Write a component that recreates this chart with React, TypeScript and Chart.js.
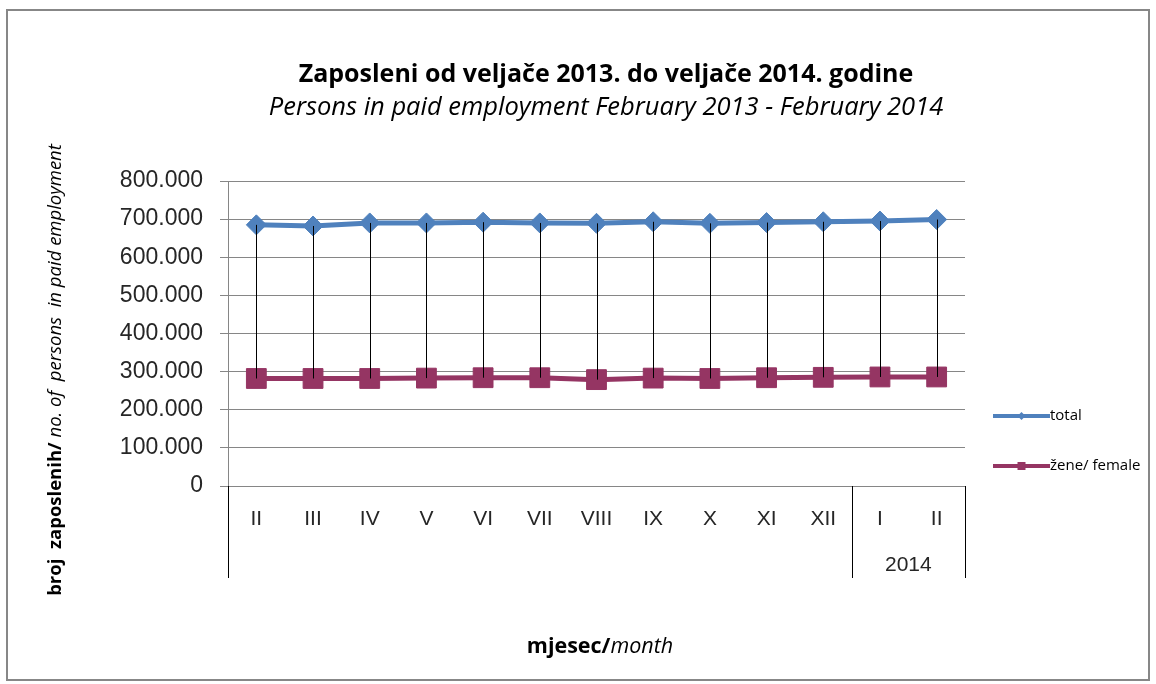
import { useEffect, useRef } from 'react';
import { Chart, registerables } from 'chart.js';

Chart.register(...registerables);

// ---- data ----
const months = ['II', 'III', 'IV', 'V', 'VI', 'VII', 'VIII', 'IX', 'X', 'XI', 'XII', 'I', 'II'];
const totalValues = [685000, 682000, 690000, 690000, 692000, 690000, 689000, 693000, 689000, 691000, 693000, 695000, 699000];
const femaleValues = [282000, 282000, 282000, 283000, 284000, 284000, 279000, 283000, 282000, 284000, 285000, 286000, 286000];
const seriesNames = ['total', 'žene/ female'];
const yearGroups = [
  { label: '', from: 0, to: 10 },
  { label: '2014', from: 11, to: 12 },
];
const yMin = 0;
const yMax = 800000;
const yStep = 100000;

const titleMain = 'Zaposleni od veljače 2013. do veljače 2014. godine';
const titleSub = 'Persons in paid employment February 2013 - February 2014';
const yTitleBold = 'broj  zaposlenih/';
const yTitleItalic = ' no. of  persons  in paid employment';
const xTitleBold = 'mjesec/';
const xTitleItalic = 'month';

const BLUE = '#4F81BD';
const PURPLE = '#953563';
const GRID = '#868686';
const TEXT = '#262626';
const FONT = '"Open Sans", Lato, sans-serif';

function fmt(v: number): string {
  return String(Math.round(v)).replace(/\B(?=(\d{3})+(?!\d))/g, '.');
}

const decor = {
  id: 'decor',
  afterDatasetsDraw(chart: any) {
    const ctx = chart.ctx;
    const m0 = chart.getDatasetMeta(0);
    const m1 = chart.getDatasetMeta(1);
    ctx.save();
    ctx.strokeStyle = '#000';
    ctx.lineWidth = 1;
    m0.data.forEach((p: any, i: number) => {
      const q = m1.data[i];
      const x = Math.round(p.x) + 0.5;
      ctx.beginPath();
      ctx.moveTo(x, p.y);
      ctx.lineTo(x, q.y);
      ctx.stroke();
    });
    ctx.restore();
  },
  afterDraw(chart: any) {
    const ctx = chart.ctx;
    const area = chart.chartArea;
    const xs = chart.scales.x;
    ctx.save();

    // titles
    ctx.fillStyle = '#000';
    ctx.textAlign = 'center';
    ctx.textBaseline = 'alphabetic';
    ctx.font = `bold 25px ${FONT}`;
    ctx.fillText(titleMain, 598, 71);
    ctx.font = `italic 25.5px ${FONT}`;
    ctx.fillText(titleSub, 598, 104);

    const drawMixed = (bold: string, ital: string, size: number, cx: number, cy: number, rot: number) => {
      ctx.save();
      ctx.translate(cx, cy);
      ctx.rotate(rot);
      ctx.textAlign = 'left';
      ctx.font = `bold ${size}px ${FONT}`;
      const wb = ctx.measureText(bold).width;
      ctx.font = `italic ${size}px ${FONT}`;
      const wi = ctx.measureText(ital).width;
      const start = -(wb + wi) / 2;
      ctx.font = `bold ${size}px ${FONT}`;
      ctx.fillText(bold, start, 0);
      ctx.font = `italic ${size}px ${FONT}`;
      ctx.fillText(ital, start + wb, 0);
      ctx.restore();
    };
    drawMixed(xTitleBold, xTitleItalic, 21.5, 592, 642, 0);
    drawMixed(yTitleBold, yTitleItalic, 18.5, 53, 359, -Math.PI / 2);

    // category groups (dividers + labels)
    const bottomY = area.bottom + 92;
    const boundary = (i: number) => {
      if (i <= 0) return xs.left;
      if (i >= months.length) return xs.right;
      return (xs.getPixelForTick(i - 1) + xs.getPixelForTick(i)) / 2;
    };
    ctx.strokeStyle = '#000';
    ctx.lineWidth = 1;
    ctx.textAlign = 'center';
    ctx.textBaseline = 'middle';
    ctx.fillStyle = TEXT;
    ctx.font = '21px "Liberation Sans", Arial, sans-serif';
    const edges = new Set<number>();
    yearGroups.forEach((g) => {
      edges.add(g.from);
      edges.add(g.to + 1);
      if (g.label) {
        const cx = (xs.getPixelForTick(g.from) + xs.getPixelForTick(g.to)) / 2;
        ctx.fillText(g.label, cx, area.bottom + 79);
      }
    });
    edges.forEach((i) => {
      const x = Math.round(boundary(i)) + 0.5;
      ctx.beginPath();
      ctx.moveTo(x, area.bottom);
      ctx.lineTo(x, bottomY);
      ctx.stroke();
    });

    // legend
    const legendX0 = 985;
    const legendX1 = 1042;
    const legendYs = [405, 455];
    const colors = [BLUE, PURPLE];
    ctx.font = `15px "Open Sans", sans-serif`;
    ctx.textAlign = 'left';
    ctx.textBaseline = 'middle';
    legendYs.forEach((ly, k) => {
      ctx.strokeStyle = colors[k];
      ctx.lineWidth = 4;
      ctx.beginPath();
      ctx.moveTo(legendX0, ly);
      ctx.lineTo(legendX1, ly);
      ctx.stroke();
      ctx.fillStyle = colors[k];
      const mx = (legendX0 + legendX1) / 2;
      ctx.beginPath();
      if (k === 0) {
        ctx.moveTo(mx, ly - 4);
        ctx.lineTo(mx + 4, ly);
        ctx.lineTo(mx, ly + 4);
        ctx.lineTo(mx - 4, ly);
        ctx.closePath();
      } else {
        ctx.rect(mx - 4, ly - 4, 8, 8);
      }
      ctx.fill();
      ctx.fillStyle = '#000';
      ctx.fillText(seriesNames[k], legendX1, ly);
    });

    ctx.restore();
  },
};

export default function App() {
  const ref = useRef<HTMLCanvasElement | null>(null);
  useEffect(() => {
    if (!ref.current) return;
    const chart = new Chart(ref.current, {
      type: 'line',
      data: {
        labels: months,
        datasets: [
          {
            label: seriesNames[0],
            data: totalValues,
            borderColor: BLUE,
            backgroundColor: BLUE,
            borderWidth: 5,
            pointStyle: 'rectRot',
            pointRadius: 10,
            pointBorderWidth: 1,
            pointBackgroundColor: BLUE,
            pointBorderColor: BLUE,
            tension: 0,
          },
          {
            label: seriesNames[1],
            data: femaleValues,
            borderColor: PURPLE,
            backgroundColor: PURPLE,
            borderWidth: 5,
            pointStyle: 'rect',
            pointRadius: 14,
            pointBorderWidth: 1,
            pointBackgroundColor: PURPLE,
            pointBorderColor: PURPLE,
            tension: 0,
          },
        ],
      },
      options: {
        responsive: false,
        animation: false,
        events: [],
        layout: { padding: { top: 170, right: 183, left: 0, bottom: 0 } },
        plugins: {
          legend: { display: false },
          title: { display: false },
          tooltip: { enabled: false },
        },
        scales: {
          x: {
            offset: true,
            grid: { display: false, drawTicks: false },
            border: { display: true, color: GRID, width: 1 },
            ticks: {
              color: TEXT,
              padding: 21,
              maxRotation: 0,
              autoSkip: false,
              font: { family: '"Liberation Sans", Arial, sans-serif', size: 21 },
            },
            afterFit: (s: any) => {
              s.height = 193;
            },
          },
          y: {
            min: yMin,
            max: yMax,
            grid: { color: GRID, lineWidth: 1, tickLength: 8, drawTicks: true },
            border: { display: true, color: GRID, width: 1 },
            ticks: {
              stepSize: yStep,
              color: TEXT,
              padding: 17,
              font: { family: '"Liberation Sans", Arial, sans-serif', size: 23 },
              callback: (v: any) => fmt(Number(v)),
            },
            afterFit: (s: any) => {
              s.width = 220;
            },
          },
        },
      },
      plugins: [decor],
    });
    return () => chart.destroy();
  }, []);

  return (
    <div
      style={{
        position: 'absolute',
        left: 6,
        top: 9,
        width: 1144,
        height: 672,
        border: '2px solid #878787',
        boxSizing: 'border-box',
        background: '#fff',
      }}
    >
      <canvas ref={ref} width={1140} height={668} style={{ display: 'block' }} />
    </div>
  );
}
